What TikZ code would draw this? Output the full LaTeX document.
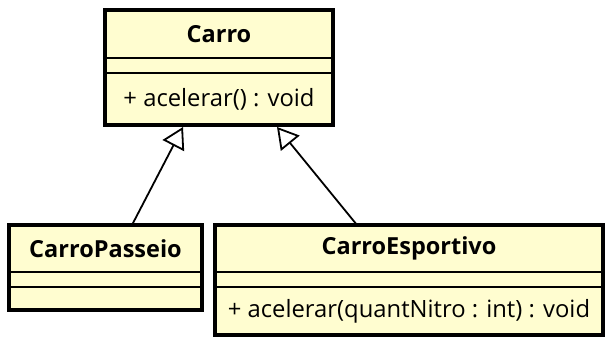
\documentclass[tikz,border=0pt]{standalone}
\usepackage{fontspec}
\setmainfont{Open Sans}
\usetikzlibrary{positioning,arrows.meta}
\definecolor{classefundo}{RGB}{255,253,208}
\tikzset{
  classe/.style = {draw=black, line width=1.6pt, fill=classefundo, inner sep=0pt, outer sep=0pt, font=\fontsize{23.8}{28}\selectfont},
  nome/.style = {classe, font=\bfseries\fontsize{23.5}{28}\selectfont},
  contorno/.style = {draw=black, line width=3.5pt},
  heranca/.style = {draw, line width=1.8pt, -{Triangle[open, length=21pt, width=24pt]}}
}
\begin{document}
\begin{tikzpicture}[x=1pt, y=-1pt]
\useasboundingbox (0,0) rectangle (609,339);
% Carro
\node[nome, minimum width=228pt, minimum height=48pt] (Carro) at (219, 34) {Carro};
\node[classe, minimum width=228pt, minimum height=15pt, below=0pt of Carro] (CarroAtr) {};
\node[classe, minimum width=228pt, minimum height=52pt, below=0pt of CarroAtr] (CarroMet) {+ acelerar() : void};
\draw[contorno] (Carro.north west) rectangle (CarroMet.south east);
% CarroPasseio
\node[nome, minimum width=193pt, minimum height=47pt] (Passeio) at (105.5, 248.5) {CarroPasseio};
\node[classe, minimum width=193pt, minimum height=15pt, below=0pt of Passeio] (PasseioAtr) {};
\node[classe, minimum width=193pt, minimum height=23pt, below=0pt of PasseioAtr] (PasseioMet) {};
\draw[contorno] (Passeio.north west) rectangle (PasseioMet.south east);
% CarroEsportivo
\node[nome, minimum width=388pt, minimum height=47pt] (Esportivo) at (409, 248.5) {CarroEsportivo};
\node[classe, minimum width=388pt, minimum height=15pt, below=0pt of Esportivo] (EsportivoAtr) {};
\node[classe, minimum width=388pt, minimum height=48pt, below=0pt of EsportivoAtr] (EsportivoMet) {+ acelerar(quantNitro : int) : void};
\draw[contorno] (Esportivo.north west) rectangle (EsportivoMet.south east);
% heranca
\path[heranca] ([xshift=26.5pt]Passeio.north) -- ([xshift=-36pt, yshift=-2pt]CarroMet.south);
\path[heranca] ([xshift=-52pt]Esportivo.north) -- ([xshift=58pt, yshift=-2pt]CarroMet.south);
\end{tikzpicture}
\end{document}
